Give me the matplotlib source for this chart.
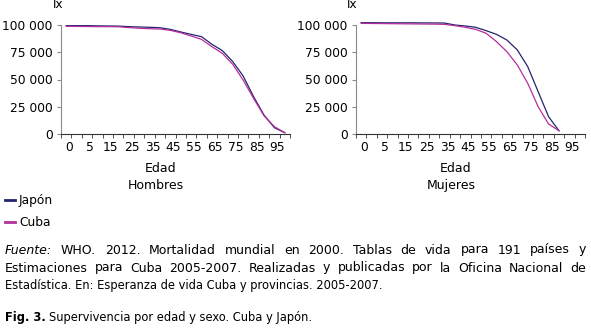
import numpy as np
import matplotlib
matplotlib.use("Agg")
import matplotlib.pyplot as plt
from matplotlib.transforms import ScaledTranslation

# life-table survivors (lx) by age group
ages = [0, 1, 5, 10, 15, 20, 25, 30, 35, 40, 45, 50, 55, 60, 65, 70, 75, 80, 85, 90, 95, 100]
age_labels = ["0", "", "5", "", "15", "", "25", "", "35", "", "45", "", "55", "",
              "65", "", "75", "", "85", "", "95", ""]

men_japon = [99400, 99400, 99400, 99200, 99100, 99000, 98500, 98200, 97900, 97500, 96000,
             93600, 91400, 89300, 82300, 76500, 66400, 53200, 34300, 17400, 5800, 1200]
men_cuba = [98800, 98700, 98600, 98500, 98500, 98400, 97600, 97000, 96600, 96300, 95100,
            92900, 89900, 86800, 80100, 74000, 63900, 49500, 32700, 16800, 6700, 1200]
women_japon = [102100, 102100, 102000, 102000, 102000, 102000, 101900, 101900, 101800, 100000,
               99100, 97900, 94800, 91400, 86200, 77100, 61800, 38800, 15900, 3000]
women_cuba = [101500, 101400, 101300, 101200, 101100, 101000, 100900, 100800, 100600, 99400,
              97900, 96000, 92400, 84700, 75500, 63300, 46500, 25000, 9200, 3000]

yticks = [0, 25000, 50000, 75000, 100000]
ytick_labels = ["0", "25 000", "50 000", "75 000", "100 000"]

c_japon = "#23246e"
c_cuba = "#b52d9c"

W, H = 591, 332
fig = plt.figure(figsize=(W / 100, H / 100), dpi=100)


def px_axes(x0, y0, x1, y1):
    return fig.add_axes([x0 / W, 1 - y1 / H, (x1 - x0) / W, (y1 - y0) / H])


def panel(ax, japon, cuba, sexo, xc):
    pos = np.arange(len(japon))
    ax.plot(pos, japon, color=c_japon, lw=0.9, clip_on=False, zorder=3)
    ax.plot(pos, cuba, color=c_cuba, lw=0.9, clip_on=False, zorder=3)
    ax.set_xlim(-0.5, len(ages) - 0.5)
    ax.set_ylim(0, 100000)
    for s in ("top", "right"):
        ax.spines[s].set_visible(False)
    ax.spines["left"].set_color("#8a8a8a")
    ax.spines["bottom"].set_color("#333333")
    ax.set_yticks(yticks, ytick_labels, fontsize=8.8)
    ax.set_xticks(np.arange(len(ages)), age_labels, fontsize=8.8)
    ax.set_xticks(np.arange(len(ages) + 1) - 0.5, minor=True)
    ax.tick_params(axis="x", which="major", length=0, pad=5)
    ax.tick_params(axis="x", which="minor", length=3, color="#333333")
    ax.tick_params(axis="y", length=3, color="#8a8a8a", pad=3)
    shift = ScaledTranslation(3 / 100, 0, fig.dpi_scale_trans)
    for lab in ax.get_xticklabels():
        lab.set_transform(lab.get_transform() + shift)
    fig.text(xc / W, 1 - 5 / H, "lx", fontsize=8.8, ha="center", va="center")
    ax.text(0.435, -0.32, "Edad", transform=ax.transAxes, fontsize=9, ha="center", va="center")
    ax.text(0.415, -0.475, sexo, transform=ax.transAxes, fontsize=9, ha="center", va="center")


ax1 = px_axes(61, 25, 290, 134)
panel(ax1, men_japon, men_cuba, "Hombres", 58)
ax2 = px_axes(356, 25, 585, 134)
panel(ax2, women_japon, women_cuba, "Mujeres", 352)

# legend
for y, lab, c in [(200, "Japón", c_japon), (222, "Cuba", c_cuba)]:
    fig.add_artist(plt.Line2D([5 / W, 15 / W], [1 - y / H, 1 - y / H], color=c, lw=2))
    fig.text(19 / W, 1 - y / H, lab, fontsize=8.8, va="center")

# source note, justified between x0 and x1
renderer = fig.canvas.get_renderer()


def justified(words, y, x0=5, x1=586, fs=9.0):
    arts = []
    for w, style in words:
        arts.append(fig.text(0, 1 - y / H, w, fontsize=fs, style=style, va="center"))
    widths = [a.get_window_extent(renderer).width for a in arts]
    gap = (x1 - x0 - sum(widths)) / (len(arts) - 1)
    x = x0
    for a, w in zip(arts, widths):
        a.set_x(x / W)
        x += w + gap


line1 = "WHO. 2012. Mortalidad mundial en 2000. Tablas de vida para 191 países y".split()
justified([("Fuente:", "italic")] + [(w, "normal") for w in line1], 250)
line2 = "Estimaciones para Cuba 2005-2007. Realizadas y publicadas por la Oficina Nacional de".split()
justified([(w, "normal") for w in line2], 268)
fig.text(5 / W, 1 - 286 / H, "Estadística. En: Esperanza de vida Cuba y provincias. 2005-2007.",
         fontsize=8.3, va="center")

fig_lab = fig.text(5 / W, 1 - 317 / H, "Fig. 3.", fontsize=8.3, weight="bold", va="center")
xend = 5 + fig_lab.get_window_extent(renderer).width + 3
fig.text(xend / W, 1 - 317 / H, "Supervivencia por edad y sexo. Cuba y Japón.",
         fontsize=8.3, va="center")

fig.savefig("out.png", dpi=100)
